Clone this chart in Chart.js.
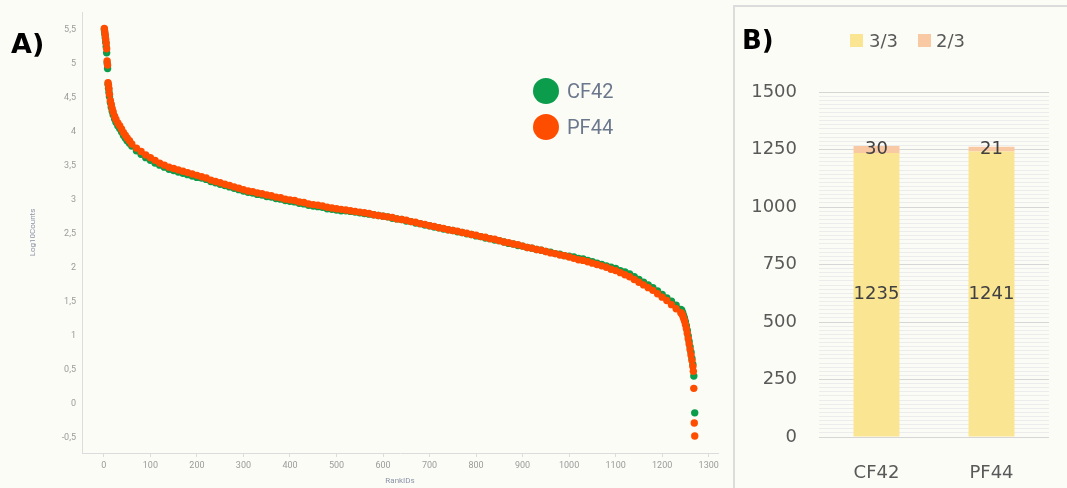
<!DOCTYPE html>
<html><head><meta charset="utf-8">
<script src="https://cdn.jsdelivr.net/npm/chart.js@4.4.1/dist/chart.umd.min.js"></script>
<style>
html,body{margin:0;padding:0;background:#fcfcf7;width:1067px;height:488px;overflow:hidden;}
body{position:relative;font-family:'DejaVu Sans',sans-serif;}
#cA{position:absolute;left:0;top:0;}
#boxB{position:absolute;left:733px;top:5px;width:340px;height:490px;border:2px solid #dcdcdc;box-sizing:border-box;}
#cB{position:absolute;left:735px;top:7px;}
.panel{position:absolute;font-weight:bold;color:#000;font-family:'DejaVu Sans',sans-serif;line-height:1;}
.lgA{position:absolute;font-family:Roboto,sans-serif;font-size:20px;color:#6b778c;line-height:1;}
.dot{position:absolute;width:26px;height:26px;border-radius:50%;}
.lgB{position:absolute;font-family:'DejaVu Sans',sans-serif;font-size:18px;color:#595959;line-height:1;}
.sq{position:absolute;width:13px;height:13px;}
</style></head>
<body>
<canvas id="cA" width="730" height="488"></canvas>
<div id="boxB"></div>
<canvas id="cB" width="332" height="481"></canvas>
<div class="panel" style="left:11px;top:30px;font-size:27px;">A)</div>
<div class="panel" style="left:742px;top:27px;font-size:26px;">B)</div>
<div class="dot" style="left:533px;top:78px;background:#0b9c4c;"></div>
<div class="lgA" style="left:567px;top:81px;">CF42</div>
<div class="dot" style="left:533px;top:114px;background:#ff4d00;"></div>
<div class="lgA" style="left:567px;top:117px;">PF44</div>
<div class="sq" style="left:850px;top:34px;background:#fae593;"></div>
<div class="lgB" style="left:869px;top:32px;">3/3</div>
<div class="sq" style="left:918px;top:34px;background:#f9c9a3;"></div>
<div class="lgB" style="left:936px;top:32px;">2/3</div>
<script>
// ---- Panel A data (rank vs log10 counts) ----
const rankIDs = [1,2,3,4,5,6,7,8,9,10,11,12,14,16,18,20,23,26,30,34,38,42,46,50,55,
60,70,80,90,100,110,120,130,140,150,
160,170,180,190,200,210,220,230,240,250,
260,270,280,290,300,310,320,330,340,350,
360,370,380,390,400,410,420,430,440,450,
460,470,480,490,500,510,520,530,540,550,
560,570,580,590,600,610,620,630,640,650,
660,670,680,690,700,710,720,730,740,750,
760,770,780,790,800,810,820,830,840,850,
860,870,880,890,900,910,920,930,940,950,
960,970,980,990,1000,1010,1020,1030,1040,1050,
1060,1070,1080,1090,1100,1110,1120,1130,1140,1150,
1160,1170,1180,1190,1200,1210,1220,1230,1240];
const cf42Log10 = [5.50,5.44,5.38,5.32,5.25,5.16,5.01,4.93,4.70,4.64,4.58,4.52,4.43,4.36,4.30,4.25,4.19,4.14,4.09,4.05,4.00,3.95,3.91,3.87,3.83,
3.79,3.72,3.67,3.62,3.58,3.54,3.51,3.48,3.45,3.43,
3.41,3.39,3.37,3.35,3.33,3.32,3.30,3.27,3.25,3.23,
3.21,3.19,3.17,3.15,3.13,3.11,3.10,3.08,3.07,3.05,
3.04,3.02,3.01,2.99,2.98,2.97,2.95,2.94,2.92,2.91,
2.90,2.89,2.87,2.86,2.85,2.84,2.84,2.83,2.82,2.81,
2.80,2.79,2.78,2.77,2.76,2.75,2.73,2.72,2.71,2.69,
2.68,2.66,2.65,2.63,2.62,2.60,2.59,2.57,2.56,2.55,
2.53,2.52,2.50,2.49,2.47,2.46,2.44,2.43,2.41,2.40,
2.38,2.36,2.35,2.33,2.32,2.30,2.29,2.27,2.26,2.24,
2.23,2.21,2.20,2.18,2.17,2.16,2.14,2.13,2.11,2.09,
2.07,2.05,2.03,2.01,1.99,1.96,1.94,1.91,1.87,1.83,
1.79,1.75,1.71,1.66,1.61,1.56,1.51,1.45,1.39];
const pf44Log10 = [5.52,5.47,5.42,5.36,5.30,5.22,5.04,4.98,4.72,4.68,4.63,4.55,4.46,4.40,4.34,4.29,4.23,4.18,4.13,4.09,4.04,3.99,3.95,3.91,3.87,
3.82,3.76,3.71,3.66,3.62,3.58,3.54,3.51,3.48,3.46,
3.44,3.42,3.40,3.38,3.36,3.34,3.32,3.29,3.27,3.25,
3.23,3.21,3.19,3.17,3.15,3.13,3.12,3.10,3.09,3.07,
3.06,3.04,3.03,3.01,3.00,2.99,2.97,2.96,2.94,2.93,
2.92,2.91,2.89,2.88,2.87,2.86,2.85,2.84,2.83,2.82,
2.81,2.80,2.78,2.77,2.76,2.75,2.74,2.72,2.71,2.70,
2.68,2.67,2.65,2.64,2.62,2.61,2.59,2.58,2.56,2.55,
2.54,2.52,2.51,2.49,2.48,2.46,2.45,2.43,2.42,2.40,
2.38,2.37,2.35,2.34,2.32,2.30,2.29,2.27,2.26,2.24,
2.22,2.21,2.19,2.18,2.16,2.14,2.12,2.11,2.09,2.07,
2.05,2.03,2.01,1.98,1.96,1.93,1.90,1.87,1.83,1.79,
1.75,1.71,1.67,1.62,1.57,1.52,1.46,1.40,1.34];
const cf42TailRanks = [1242,1244,1246,1248,1250,1252,1254,1256,1258,1260,1262,1264,1266,1268,1270];
const cf42TailLog10 = [1.38,1.34,1.30,1.26,1.21,1.15,1.08,1.00,0.92,0.84,0.76,0.67,0.58,0.41,-0.13];
const pf44TailRanks = [1242,1244,1246,1248,1250,1252,1254,1256,1258,1260,1262,1264,1266,1267,1268,1269,1270];
const pf44TailLog10 = [1.33,1.30,1.26,1.22,1.17,1.11,1.04,0.96,0.88,0.80,0.72,0.64,0.55,0.48,0.23,-0.28,-0.47];
const xTickValues = [0,100,200,300,400,500,600,700,800,900,1000,1100,1200,1300];
const yTickValues = [-0.5,0,0.5,1,1.5,2,2.5,3,3.5,4,4.5,5,5.5];

// ---- Panel B data ----
const barCategories = ['CF42','PF44'];
const agree3of3 = [1235,1241];
const agree2of3 = [30,21];
const barTickValues = [0,250,500,750,1000,1250,1500];

function pts(r, v){ return r.map((x,i)=>({x:x, y:v[i]})); }
const cfPts = pts(rankIDs, cf42Log10).concat(pts(cf42TailRanks, cf42TailLog10));
const pfPts = pts(rankIDs, pf44Log10).concat(pts(pf44TailRanks, pf44TailLog10));

const axisGrey = '#dcdcdc';
new Chart(document.getElementById('cA'), {
  type: 'scatter',
  data: { datasets: [
    { label:'CF42', data: cfPts, backgroundColor:'#0b9c4c', pointRadius:3.7, pointBorderWidth:0, order:2 },
    { label:'PF44', data: pfPts, backgroundColor:'#ff4d00', pointRadius:3.7, pointBorderWidth:0, order:1 }
  ]},
  options: {
    responsive:false, animation:false,
    layout:{ padding:{ top:12, right:12, left:0, bottom:0 } },
    plugins:{ legend:{display:false}, tooltip:{enabled:false} },
    scales:{
      x:{ type:'linear', min:-47, max:1320,
          afterBuildTicks: s => { s.ticks = xTickValues.map(v=>({value:v})); },
          afterFit: s => { s.height = 35; },
          grid:{ drawOnChartArea:false, drawTicks:true, tickLength:4, color:axisGrey },
          border:{ display:true, color:axisGrey },
          ticks:{ color:'#9a9a9a', font:{family:'Roboto', size:9}, padding:3, maxRotation:0,
                  callback: v => String(v) },
          title:{ display:true, text:'RankIDs', color:'#8a93a6', font:{family:'Roboto', size:8}, padding:{top:0,bottom:2} } },
      y:{ type:'linear', min:-0.72, max:5.76,
          afterBuildTicks: s => { s.ticks = yTickValues.map(v=>({value:v})); },
          afterFit: s => { s.width = 82; },
          grid:{ drawOnChartArea:false, drawTicks:false, color:axisGrey },
          border:{ display:true, color:axisGrey },
          ticks:{ color:'#9a9a9a', font:{family:'Roboto', size:9}, padding:6,
                  callback: v => String(v).replace('.', ',') },
          title:{ display:true, text:'Log10Counts', color:'#8a93a6', font:{family:'Roboto', size:8}, padding:{top:28,bottom:0} } }
    }
  }
});

const barLabels = {
  id:'barLabels',
  afterDatasetsDraw(chart){
    const ctx = chart.ctx;
    ctx.save();
    ctx.font = '18px "DejaVu Sans"';
    ctx.fillStyle = '#404040';
    ctx.textAlign = 'center';
    ctx.textBaseline = 'middle';
    chart.data.datasets.forEach((ds, di) => {
      chart.getDatasetMeta(di).data.forEach((bar, i) => {
        ctx.fillText(String(ds.data[i]), bar.x, (bar.y + bar.base)/2);
      });
    });
    ctx.restore();
  }
};

const MINOR = 14;
new Chart(document.getElementById('cB'), {
  type:'bar',
  data:{ labels: barCategories, datasets:[
    { label:'3/3', data: agree3of3, backgroundColor:'#fae593', barPercentage:0.4, categoryPercentage:1 },
    { label:'2/3', data: agree2of3, backgroundColor:'#f9c9a3', barPercentage:0.4, categoryPercentage:1 }
  ]},
  options:{
    responsive:false, animation:false,
    layout:{ padding:{ top:85, right:18, left:0, bottom:0 } },
    plugins:{ legend:{display:false}, tooltip:{enabled:false} },
    scales:{
      x:{ stacked:true, grid:{display:false}, border:{display:false},
          afterFit: s => { s.height = 51; },
          ticks:{ color:'#595959', font:{family:'DejaVu Sans', size:18}, padding:18 } },
      y:{ stacked:true, min:0, max:1500,
          afterBuildTicks: s => {
            const t = [];
            for (let i = 0; i < barTickValues.length - 1; i++) {
              for (let k = 0; k < MINOR; k++) t.push({ value: barTickValues[i] + (barTickValues[i+1]-barTickValues[i]) * k / MINOR });
            }
            t.push({ value: barTickValues[barTickValues.length-1] });
            s.ticks = t;
          },
          afterFit: s => { s.width = 84; },
          grid:{ drawTicks:false, lineWidth:1,
                 color: c => (c.index % MINOR === 0) ? '#d6d6d6' : '#ececec' },
          border:{ display:false },
          ticks:{ autoSkip:false, padding:22, color:'#595959', font:{family:'DejaVu Sans', size:18},
                  callback: (v, i) => (i % MINOR === 0) ? String(Math.round(v)) : '' } }
    }
  },
  plugins:[barLabels]
});
</script>
</body></html>
